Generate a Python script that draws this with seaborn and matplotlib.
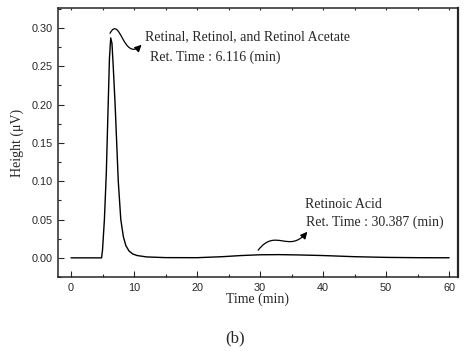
import numpy as np
import pandas as pd
import seaborn as sns
import matplotlib.pyplot as plt
from matplotlib.path import Path
from matplotlib.patches import FancyArrowPatch
from matplotlib.ticker import MultipleLocator

# chromatogram
tempo = [0, 4.85, 5.0, 5.3, 5.6, 5.9, 6.1, 6.3, 6.5, 6.7, 7.0, 7.25, 7.5, 7.9,
         8.3, 8.7, 9.2, 9.8, 10.5, 12, 15, 20, 24, 27, 30, 33, 36, 40, 45, 50, 55, 60]
altura = [0, 0, 0.01, 0.05, 0.11, 0.20, 0.26, 0.287, 0.28, 0.25, 0.20, 0.15, 0.10, 0.05,
          0.028, 0.016, 0.009, 0.005, 0.003, 0.0012, 0.0003, 0.0002, 0.0015, 0.003,
          0.004, 0.0042, 0.0038, 0.003, 0.0015, 0.0006, 0.0002, 0.0001]

pico1 = ["Retinal, Retinol, and Retinol Acetate", "Ret. Time : 6.116 (min)"]
pico2 = ["Retinoic Acid", "Ret. Time : 30.387 (min)"]

df = pd.DataFrame({"Time (min)": tempo, "Height": altura})

sns.set_style("ticks")
plt.rcParams["font.family"] = ["Liberation Sans", "DejaVu Sans"]
plt.rcParams["xtick.direction"] = "in"
plt.rcParams["ytick.direction"] = "in"

fig = plt.figure(figsize=(4.69, 3.54), dpi=100)
ax = fig.add_axes([0.1237, 0.2175, 0.8528, 0.7599])
sns.lineplot(data=df, x="Time (min)", y="Height", color="black", linewidth=1.0, ax=ax)

ax.set_xlim(-2.06, 61.4)
ax.set_ylim(-0.025, 0.326)
ax.xaxis.set_major_locator(MultipleLocator(10))
ax.xaxis.set_minor_locator(MultipleLocator(5))
ax.yaxis.set_major_locator(MultipleLocator(0.05))
ax.yaxis.set_minor_locator(MultipleLocator(0.025))
ax.yaxis.set_major_formatter(plt.FormatStrFormatter("%.2f"))
ax.tick_params(which="both", labelsize=7.8, width=0.8)
ax.tick_params(which="major", length=4, pad=4)
ax.tick_params(which="minor", length=2.5)
# faint little ticks along the top
ax.tick_params(axis="x", which="both", top=True)
ax.xaxis.set_tick_params(which="both", labeltop=False)
for t in ax.xaxis.get_major_ticks() + ax.xaxis.get_minor_ticks():
    t.tick2line.set_markersize(1.5)
    t.tick2line.set_color("#999999")
for s in ax.spines.values():
    s.set_linewidth(1.1)
ax.spines["right"].set_linewidth(1.6)

serif = ["Liberation Serif", "DejaVu Serif"]
ax.set_xlabel("Time (min)", fontsize=10, family=serif, labelpad=0)
ax.set_ylabel("Height (\u03bcV)", fontsize=10, family=serif, labelpad=5)

# wavy arrows
def seta(p0, p1, p2, p3):
    caminho = Path([p0, p1, p2, p3], [Path.MOVETO, Path.CURVE4, Path.CURVE4, Path.CURVE4])
    a = FancyArrowPatch(path=caminho, arrowstyle="-|>,head_length=4,head_width=2",
                        color="black", linewidth=0.9, transform=ax.transData)
    ax.add_patch(a)

seta((6.19, 0.293), (7.8, 0.318), (8.3, 0.255), (11.2, 0.278))
seta((29.7, 0.010), (32.5, 0.040), (34.5, 0.005), (37.5, 0.034))

ax.text(11.75, 0.289, pico1[0], fontsize=10, family=serif, va="center")
ax.text(12.5, 0.262, pico1[1], fontsize=10, family=serif, va="center")
ax.text(37.1, 0.070, pico2[0], fontsize=10, family=serif, va="center")
ax.text(37.3, 0.047, pico2[1], fontsize=10, family=serif, va="center")

fig.text(0.501, 0.045, "(b)", fontsize=12, family=serif, ha="center", va="center")

fig.savefig("out.png", dpi=100)
